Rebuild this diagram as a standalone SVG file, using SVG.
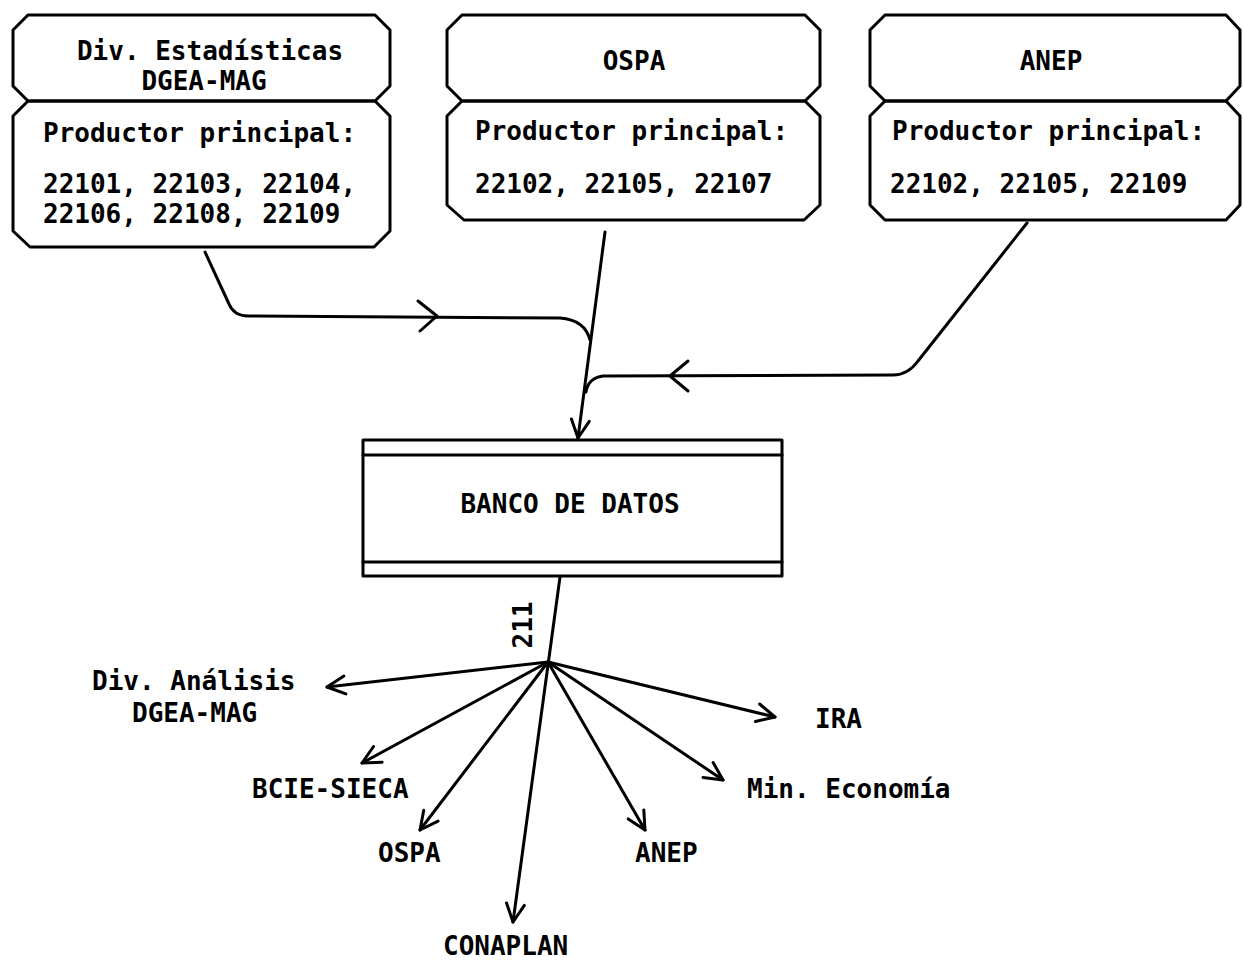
<svg xmlns="http://www.w3.org/2000/svg" width="1243" height="961" viewBox="0 0 1243 961">
<defs>
<style>
.box{fill:none;stroke:#000;stroke-width:3;stroke-linejoin:round}
.ln{fill:none;stroke:#000;stroke-width:3;stroke-linecap:round;stroke-linejoin:round}
.t{font-family:"DejaVu Sans Mono","Liberation Mono",monospace;font-weight:bold;font-size:26px;fill:#000}
.m{text-anchor:middle}
</style>
<marker id="ah" markerUnits="userSpaceOnUse" markerWidth="26" markerHeight="24" refX="21" refY="12" orient="auto">
<path d="M3,3 L21,12 L3,21" fill="none" stroke="#000" stroke-width="3" stroke-linecap="round" stroke-linejoin="round"/>
</marker>
</defs>
<rect width="1243" height="961" fill="#fff"/>
<g id="node-div-estadisticas">
<polygon class="box" points="28,15 375,15 390,30 390,86 375,101 28,101 13,86 13,30"/>
<polygon class="box" points="28,101 375,101 390,116 390,231 374,247 30,247 13,231 13,116"/>
<text class="t m" x="210" y="60">Div. Estadísticas</text>
<text class="t m" x="204" y="90">DGEA-MAG</text>
<text class="t" x="43" y="142">Productor principal:</text>
<text class="t" x="43" y="193">22101, 22103, 22104,</text>
<text class="t" x="43" y="223">22106, 22108, 22109</text>
</g>
<g id="node-ospa">
<polygon class="box" points="462,15 805,15 820,30 820,86 805,101 462,101 447,86 447,30"/>
<polygon class="box" points="462,101 805,101 820,116 820,205 804,220 464,220 447,205 447,116"/>
<text class="t m" x="634" y="70">OSPA</text>
<text class="t" x="475" y="140">Productor principal:</text>
<text class="t" x="475" y="193">22102, 22105, 22107</text>
</g>
<g id="node-anep">
<polygon class="box" points="885,15 1226,15 1240,30 1240,86 1226,101 885,101 870,86 870,30"/>
<polygon class="box" points="885,101 1226,101 1240,116 1240,205 1226,220 885,220 870,205 870,116"/>
<text class="t m" x="1051" y="70">ANEP</text>
<text class="t" x="892" y="140">Productor principal:</text>
<text class="t" x="890" y="193">22102, 22105, 22109</text>
</g>
<g id="node-banco">
<rect class="box" x="363" y="440" width="419" height="136"/>
<line class="ln" x1="363" y1="455" x2="782" y2="455"/>
<line class="ln" x1="363" y1="562" x2="782" y2="562"/>
<text class="t m" x="570" y="513">BANCO DE DATOS</text>
</g>
<g id="connectors">
<path class="ln" d="M205,252 L229,304 Q234,316 248,316 L560,318 Q585,320 590,340"/>
<path class="ln" d="M418,301 L437,316 L420,331"/>
<path class="ln" d="M1027,223 L918,361 Q908,375 893,375 L603,376 Q588,378 586,392"/>
<path class="ln" d="M688,361 L670,376 L688,391"/>
<path class="ln" d="M605,232 L578,438" marker-end="url(#ah)"/>
<path class="ln" d="M560,577 L513,922" marker-end="url(#ah)"/>
<path class="ln" d="M548,662 L327,687" marker-end="url(#ah)"/>
<path class="ln" d="M548,662 L362,763" marker-end="url(#ah)"/>
<path class="ln" d="M548,662 L420,830" marker-end="url(#ah)"/>
<path class="ln" d="M548,662 L645,830" marker-end="url(#ah)"/>
<path class="ln" d="M548,662 L723,780" marker-end="url(#ah)"/>
<path class="ln" d="M548,662 L775,717" marker-end="url(#ah)"/>
<text class="t m" transform="translate(532,625) rotate(-90)">211</text>
</g>
<g id="node-div-analisis">
<text class="t" x="92" y="690">Div. Análisis</text>
<text class="t" x="132" y="722">DGEA-MAG</text>
</g>
<g id="node-bcie"><text class="t" x="252" y="798">BCIE-SIECA</text></g>
<g id="node-ospa-out"><text class="t" x="378" y="862">OSPA</text></g>
<g id="node-conaplan"><text class="t" x="443" y="955">CONAPLAN</text></g>
<g id="node-anep-out"><text class="t" x="635" y="862">ANEP</text></g>
<g id="node-mineco"><text class="t" x="747" y="798">Min. Economía</text></g>
<g id="node-ira"><text class="t" x="815" y="728">IRA</text></g>
</svg>
